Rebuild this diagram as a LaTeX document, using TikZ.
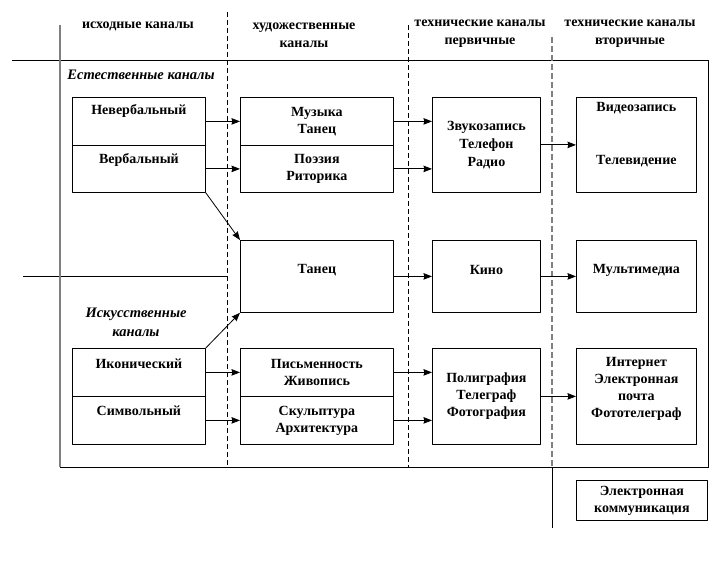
\documentclass[tikz,border=0pt]{standalone}
\usepackage{fontspec}
\setmainfont{Liberation Serif}
\usetikzlibrary{arrows.meta}
\tikzset{
  cell/.style={draw, line width=0.8pt, anchor=north west, inner sep=0pt, align=center},
  txt/.style={align=center, inner sep=0pt},
  head/.style={align=center, inner sep=0pt},
  frame/.style={line width=0.8pt},
  grayline/.style={draw=gray, line width=1.6pt},
  divider/.style={line width=0.8pt, dash pattern=on 5pt off 3pt},
  link/.style={->, line width=0.8pt},
}
\begin{document}
\begin{tikzpicture}[x=1pt, y=-1pt, font=\fontsize{14}{17}\selectfont\bfseries, line join=round, >={Stealth[length=8.5pt,width=6.5pt,inset=0.8pt]}]
\useasboundingbox (0,0) rectangle (720,564);
% frame and column dividers
\path
  (12,60) coordinate (TL)
  (708,60) coordinate (TR)
  (708,467) coordinate (BR)
  (60,467) coordinate (BL)
  (60,25) coordinate (G)
  (227,12) coordinate (D1) (227,467) coordinate (D1e)
  (408,25) coordinate (D2) (408,467) coordinate (D2e)
  (552,37) coordinate (D3) (552,467) coordinate (D3e) (552,528) coordinate (D3f)
  (23,276) coordinate (M1) (227,276) coordinate (M2)
  ;
\draw[frame] (TL)--(TR)--(BR)--(BL) (M1)--(M2) (D3e)--(D3f);
\draw[grayline] (G)--(BL);
\draw[divider] (D1)--(D1e) (D2)--(D2e);
\draw[grayline, dash pattern=on 6pt off 3pt] (D3)--(D3e);

% column heads
\node[head] (h1) at (138,26) {исходные каналы};
\node[head] (h2) at (304,35) {художественные\\[1pt]каналы};
\node[head] (h3) at (480,34) {технические каналы\\[1pt]первичные};
\node[head] (h4) at (630,34) {технические каналы\\[1pt]вторичные};
\node[head, font=\fontsize{14.5}{17}\selectfont\bfseries\itshape] (nat) at (141,75) {Естественные каналы};
\node[head, font=\fontsize{14.5}{17}\selectfont\bfseries\itshape] (art) at (136,322) {Искусственные\\[2pt]каналы};

% natural channels
\node[cell, minimum width=133pt, minimum height=48pt, label={[txt, anchor=center, yshift=-14pt]north:Невербальный}] (nv) at (72,97) {};
\node[cell, minimum width=133pt, minimum height=47pt, label={[txt, anchor=center, yshift=-15pt]north:Вербальный}] (vb) at (72,145) {};
\node[cell, minimum width=153pt, minimum height=48pt] (mt) at (240,97) {Музыка\\Танец};
\node[cell, minimum width=153pt, minimum height=47pt] (pr) at (240,145) {Поэзия\\Риторика};
\node[cell, minimum width=108pt, minimum height=95pt] (zvuk) at (432,97) {Звукозапись\\[1pt]Телефон\\[1pt]Радио};
\node[cell, minimum width=120pt, minimum height=95pt, label={[txt, anchor=center, yshift=-11pt]north:Видеозапись}, label={[txt, anchor=center, yshift=32pt]south:Телевидение}] (video) at (576,97) {};

% middle row
\foreach \n/\x/\w/\t in {tanec/240/153/Танец, kino/432/108/Кино, multi/576/120/Мультимедиа}
  \node[cell, minimum width=\w pt, minimum height=72pt, label={[txt, anchor=center, yshift=-30pt]north:\t}] (\n) at (\x,240) {};

% artificial channels
\node[cell, minimum width=133pt, minimum height=48pt, label={[txt, anchor=center, yshift=-16pt]north:Иконический}] (ikon) at (72,348) {};
\node[cell, minimum width=133pt, minimum height=48pt, label={[txt, anchor=center, yshift=-15pt]north:Символьный}] (simv) at (72,396) {};
\node[cell, minimum width=153pt, minimum height=48pt] (pism) at (240,348) {Письменность\\Живопись};
\node[cell, minimum width=153pt, minimum height=48pt] (skul) at (240,396) {Скульптура\\Архитектура};
\node[cell, minimum width=108pt, minimum height=96pt] (poli) at (432,348) {Полиграфия\\Телеграф\\Фотография};
\node[cell, minimum width=120pt, minimum height=96pt, label={[txt, anchor=north, yshift=-9pt]north:{Интернет\\Электронная\\почта\\Фототелеграф}}] (inet) at (576,348) {};
\node[cell, minimum width=131pt, minimum height=40pt] (ecom) at (576,480) {Электронная\\коммуникация};

% connectors
\draw[link] (nv.east) -- (mt.west);
\draw[link] (vb.east) -- (pr.west);
\draw[link] (mt.east) -- (mt.east -| zvuk.west);
\draw[link] (pr.east) -- (pr.east -| zvuk.west);
\draw[link] (zvuk.east) -- (video.west);
\draw[link] (vb.south east) -- (tanec.north west);
\draw[link] (ikon.north east) -- (tanec.south west);
\draw[link] (tanec.east) -- (kino.west);
\draw[link] (kino.east) -- (multi.west);
\draw[link] (ikon.east) -- (pism.west);
\draw[link] (simv.east) -- (skul.west);
\draw[link] (pism.east) -- (pism.east -| poli.west);
\draw[link] (skul.east) -- (skul.east -| poli.west);
\draw[link] (poli.east) -- (inet.west);
\end{tikzpicture}
\end{document}
